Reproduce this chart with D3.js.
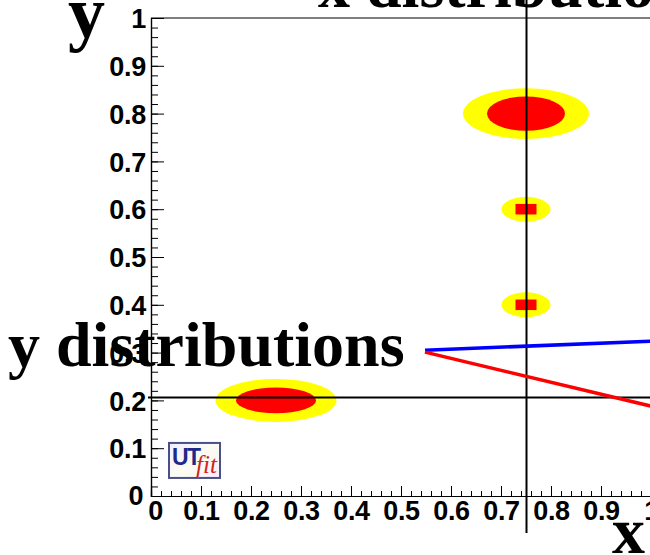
<!DOCTYPE html>
<html>
<head>
<meta charset="utf-8">
<script src="https://cdn.jsdelivr.net/npm/d3@7"></script>
<style>
  html, body { margin: 0; padding: 0; background: #fff; }
  svg { display: block; }
</style>
</head>
<body>
<svg id="chart" width="650" height="555"></svg>
<script>
// Peaks of the 2D distribution (centre, outer contour and inner core, in axis units)
const peakX      = [0.25, 0.75, 0.75, 0.75];
const peakY      = [0.20, 0.80, 0.60, 0.40];
const outerRx    = [0.121, 0.126, 0.049, 0.049];
const outerRy    = [0.045, 0.053, 0.026, 0.026];
const innerRx    = [0.080, 0.078, 0.021, 0.021];
const innerRy    = [0.027, 0.036, 0.011, 0.011];
const innerShape = ["ellipse", "ellipse", "box", "box"];

// Cut lines through the distribution
const cutX = 0.751;
const cutY = 0.206;

// Projection pointers from the "y distributions" label
const pointerColor = ["#0000ff", "#ff0000"];
const pointerX0 = [0.548, 0.548];
const pointerY0 = [0.305, 0.301];
const pointerX1 = [1.0, 1.0];
const pointerY1 = [0.324, 0.188];

// Tick labels
const majorTicks = [0, 0.1, 0.2, 0.3, 0.4, 0.5, 0.6, 0.7, 0.8, 0.9, 1];
const tickLabels = ["0", "0.1", "0.2", "0.3", "0.4", "0.5", "0.6", "0.7", "0.8", "0.9", "1"];
const minorTicks = d3.range(0, 51).map(i => i / 50);

const svg = d3.select("#chart");
const x = d3.scaleLinear().domain([0, 1]).range([151, 651]);
const y = d3.scaleLinear().domain([0, 1]).range([496, 18]);

// Contours: yellow outer band, red core
const g = svg.append("g");
peakX.forEach((px, i) => {
  g.append("ellipse")
    .attr("cx", x(px)).attr("cy", y(peakY[i]))
    .attr("rx", x(outerRx[i]) - x(0)).attr("ry", y(0) - y(outerRy[i]))
    .attr("fill", "#ffff00");
});
peakX.forEach((px, i) => {
  const rx = x(innerRx[i]) - x(0), ry = y(0) - y(innerRy[i]);
  if (innerShape[i] === "box") {
    g.append("rect")
      .attr("x", x(px) - rx).attr("y", y(peakY[i]) - ry)
      .attr("width", 2 * rx).attr("height", 2 * ry)
      .attr("fill", "#ff0000");
  } else {
    g.append("ellipse")
      .attr("cx", x(px)).attr("cy", y(peakY[i]))
      .attr("rx", rx).attr("ry", ry)
      .attr("fill", "#ff0000");
  }
});

// Frame
svg.append("line").attr("x1", x(0)).attr("x2", x(1) + 2).attr("y1", y(1)).attr("y2", y(1))
  .attr("stroke", "#000").attr("stroke-width", 1);

// Axes (ticks drawn inside the frame)
const tickFont = "'Liberation Sans', Arial, sans-serif";
const xMinor = svg.append("g").attr("transform", `translate(0,${y(0)})`)
  .call(d3.axisBottom(x).tickValues(minorTicks).tickSize(-5).tickFormat(""));
const xMajor = svg.append("g").attr("transform", `translate(0,${y(0)})`)
  .call(d3.axisBottom(x).tickValues(majorTicks).tickSize(-10).tickPadding(19)
    .tickFormat((d, i) => tickLabels[i]));
const yMinor = svg.append("g").attr("transform", `translate(${x(0)},0)`)
  .call(d3.axisLeft(y).tickValues(minorTicks).tickSize(-7).tickFormat(""));
const yMajor = svg.append("g").attr("transform", `translate(${x(0)},0)`)
  .call(d3.axisLeft(y).tickValues(majorTicks).tickSize(-13).tickPadding(5)
    .tickFormat((d, i) => tickLabels[i]));
[xMinor, xMajor, yMinor, yMajor].forEach(a => {
  a.selectAll("path.domain").attr("stroke", "#000").attr("stroke-width", 1.2);
  a.selectAll(".tick line").attr("stroke", "#000").attr("stroke-width", 1);
  a.selectAll("text").attr("font-family", tickFont).attr("font-weight", "bold")
    .attr("font-size", 27).attr("letter-spacing", -0.3).attr("fill", "#000");
});
xMajor.selectAll("text").attr("dy", "0.2em");
yMajor.selectAll("text").attr("dy", "0.36em");
// the "0" labels of both axes sit close to the origin
yMajor.selectAll(".tick").filter(d => d === 0).select("text").attr("dy", "0.3em").attr("dx", "-0.1em");
xMajor.selectAll(".tick").filter(d => d === 0).select("text").attr("dx", "0.15em");

// Cut lines
svg.append("line").attr("x1", x(cutX)).attr("x2", x(cutX)).attr("y1", 0).attr("y2", 533)
  .attr("stroke", "#000").attr("stroke-width", 2);
svg.append("line").attr("x1", x(0) - 3).attr("x2", 650).attr("y1", y(cutY)).attr("y2", y(cutY))
  .attr("stroke", "#000").attr("stroke-width", 2);

// UTfit badge
const logo = svg.append("g").attr("transform", `translate(${x(0.036)},${y(0.111)})`);
const grad = svg.append("defs").append("linearGradient").attr("id", "badgeBg")
  .attr("x1", 0).attr("y1", 0).attr("x2", 1).attr("y2", 1);
grad.append("stop").attr("offset", 0).attr("stop-color", "#f1eeff");
grad.append("stop").attr("offset", 0.5).attr("stop-color", "#fbfbf2");
grad.append("stop").attr("offset", 1).attr("stop-color", "#f6f0f6");
logo.append("rect").attr("x", 0).attr("y", 0).attr("width", 51).attr("height", 35)
  .attr("fill", "url(#badgeBg)").attr("stroke", "#4a4f8a").attr("stroke-width", 2);
logo.append("text").attr("x", 3).attr("y", 22).text("UT")
  .attr("font-family", tickFont).attr("font-weight", "bold").attr("font-size", 23)
  .attr("fill", "#1c2a8c").attr("letter-spacing", -1.5);
logo.append("text").attr("x", 27).attr("y", 30).text("fit")
  .attr("font-family", "'Liberation Serif', serif").attr("font-style", "italic")
  .attr("font-size", 25).attr("fill", "#d42020");

// Projection pointers
pointerX0.forEach((px, i) => {
  svg.append("line")
    .attr("x1", x(px)).attr("y1", y(pointerY0[i]))
    .attr("x2", x(pointerX1[i])).attr("y2", y(pointerY1[i]))
    .attr("stroke", pointerColor[i]).attr("stroke-width", 3.5);
});

// Big serif labels
const serif = "'Liberation Serif', 'Times New Roman', serif";
const big = (txt, tx, ty, size) => svg.append("text").attr("x", tx).attr("y", ty).text(txt)
  .attr("font-family", serif).attr("font-weight", "bold").attr("font-size", size).attr("fill", "#000");
big("y distributions", 8, 366, 64);
big("x distributions", 318, 7, 64);
big("y", 68, 37, 74);
big("x", 612, 553, 66);
</script>
</body>
</html>
